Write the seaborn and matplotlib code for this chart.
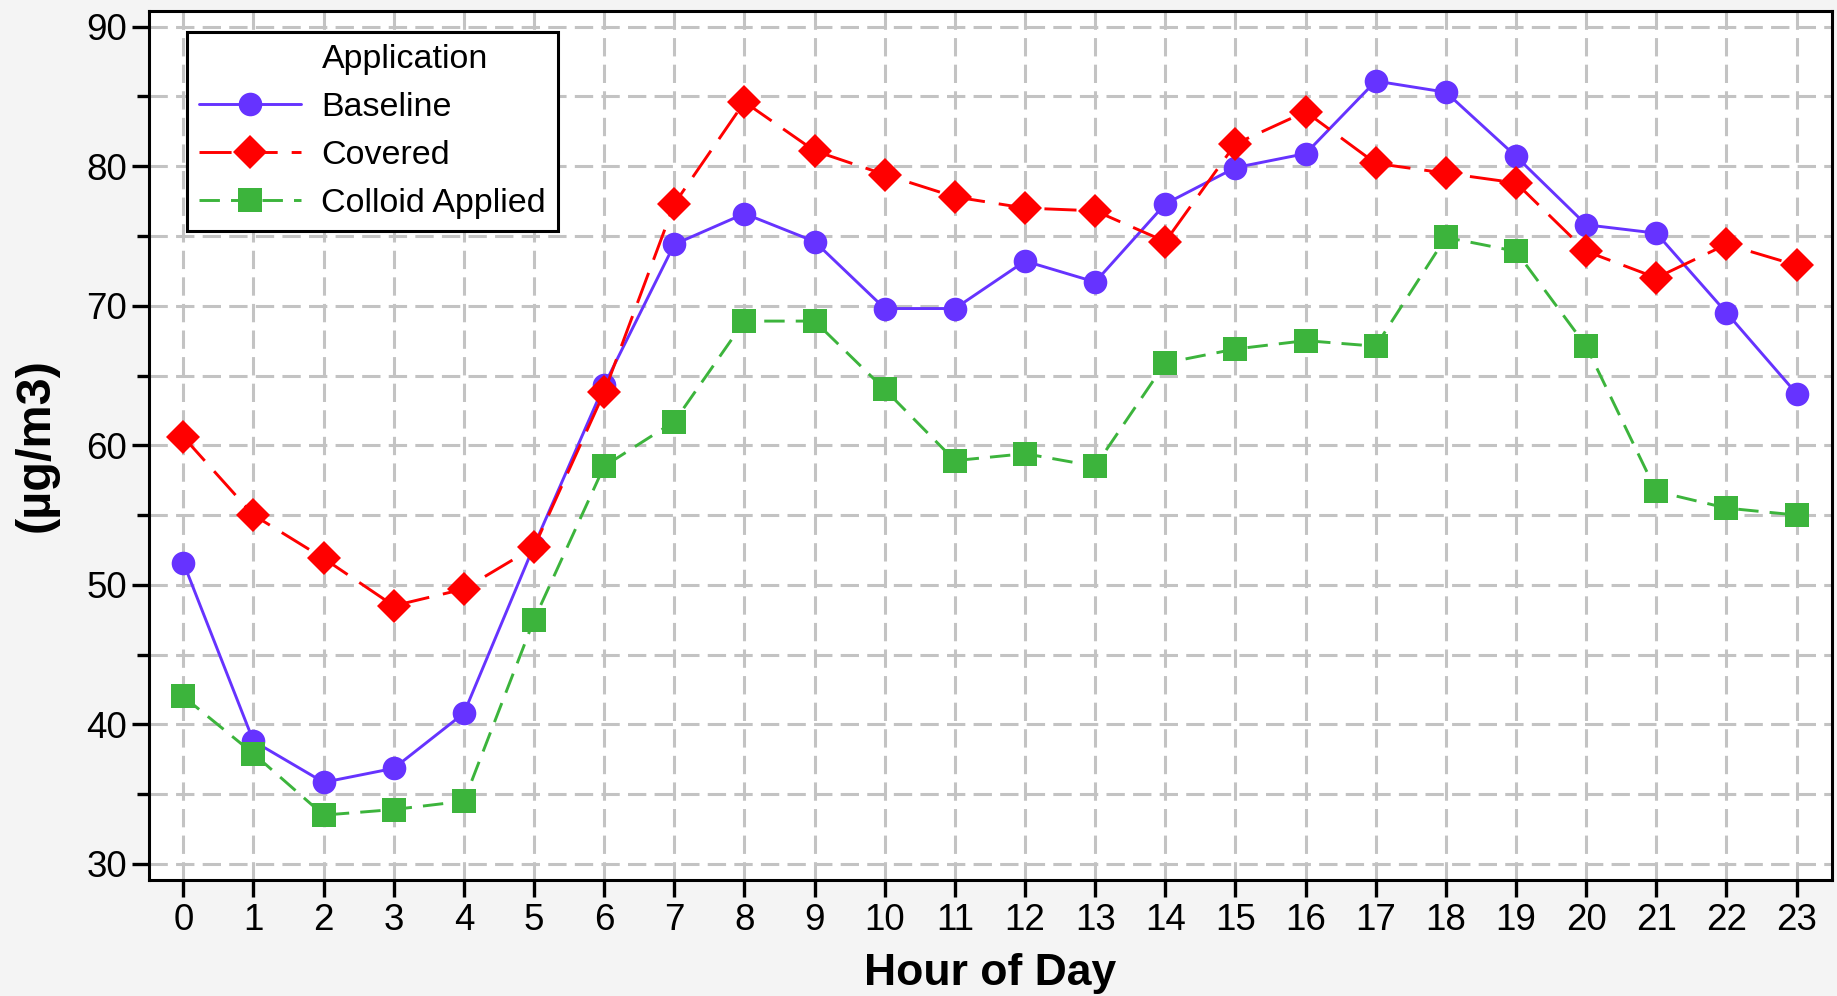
import numpy as np
import pandas as pd
import matplotlib
matplotlib.use("Agg")
import matplotlib.pyplot as plt
from matplotlib.lines import Line2D
from matplotlib.ticker import MultipleLocator
import seaborn as sns

hours = list(range(24))
baseline = [51.6, 38.8, 35.85, 36.85, 40.8, 52.8, 64.3, 74.4, 76.6, 74.6, 69.8, 69.8,
            73.2, 71.7, 77.3, 79.9, 80.9, 86.1, 85.3, 80.7, 75.8, 75.2, 69.5, 63.7]
covered = [60.6, 55.0, 51.9, 48.5, 49.7, 52.7, 63.8, 77.3, 84.6, 81.1, 79.4, 77.8,
           77.0, 76.8, 74.6, 81.6, 83.9, 80.2, 79.5, 78.8, 73.9, 72.0, 74.4, 72.9]
colloid = [42.0, 37.9, 33.5, 33.9, 34.5, 47.5, 58.5, 61.7, 68.9, 68.9, 64.0, 58.9,
           59.4, 58.5, 65.9, 66.9, 67.5, 67.1, 74.9, 73.9, 67.1, 56.7, 55.5, 55.0]
series_names = ["Baseline", "Covered", "Colloid Applied"]
legend_title = "Application"
x_label = "Hour of Day"
y_label = "(µg/m3)"

df = pd.DataFrame({
    "hour": hours * 3,
    "value": baseline + covered + colloid,
    "Application": [series_names[0]] * 24 + [series_names[1]] * 24 + [series_names[2]] * 24,
})

sns.set_style("ticks")
plt.rcParams["font.family"] = ["Liberation Sans", "DejaVu Sans"]
plt.rcParams["text.color"] = "black"
plt.rcParams["axes.labelcolor"] = "black"
plt.rcParams["xtick.color"] = "black"
plt.rcParams["ytick.color"] = "black"

fig = plt.figure(figsize=(18.37, 9.96), dpi=100, facecolor="#f4f4f4")
ax = fig.add_axes([149.3 / 1837, 1 - 880 / 996, (1831.7 - 149.3) / 1837, (880 - 11) / 996])
ax.set_facecolor("white")

palette = {"Baseline": "#6633ff", "Covered": "#ff0000", "Colloid Applied": "#3cb43c"}
markers = {"Baseline": "o", "Covered": "D", "Colloid Applied": "s"}
dashes = {"Baseline": "", "Covered": (11, 4.8), "Colloid Applied": (7, 3.8)}

sns.lineplot(data=df, x="hour", y="value", hue="Application", style="Application",
             palette=palette, markers=markers, dashes=dashes, hue_order=series_names,
             style_order=series_names, linewidth=2.1, markersize=17, markeredgewidth=0,
             ax=ax, legend=True, zorder=3)

ax.set_xlim(-0.485, 23.5)
ax.set_ylim(28.85, 91.12)
ax.set_xticks(hours)
ax.yaxis.set_major_locator(MultipleLocator(10))
ax.yaxis.set_minor_locator(MultipleLocator(5))
ax.set_yticks([30, 40, 50, 60, 70, 80, 90])

ax.grid(True, which="major", axis="both", color="#c3c3c3", linestyle=(0, (6, 2.7)), linewidth=2.2, zorder=0)
ax.grid(True, which="minor", axis="y", color="#c3c3c3", linestyle=(0, (6, 2.7)), linewidth=2.2, zorder=0)
ax.set_axisbelow(True)

for s in ax.spines.values():
    s.set_visible(True)
    s.set_color("black")
    s.set_linewidth(2.2)

ax.tick_params(axis="both", which="major", length=12.2, width=2.4, color="black",
               labelsize=26.5, labelcolor="black", pad=4, direction="out")
ax.tick_params(axis="y", which="minor", length=8.6, width=2.4, color="black", direction="out")

ax.set_xlabel(x_label, fontsize=32, fontweight="bold", labelpad=11, color="black")
ax.set_ylabel(y_label, fontsize=35, fontweight="bold", labelpad=20, color="black")

handles, labels = ax.get_legend_handles_labels()
hl = [(h, l) for h, l in zip(handles, labels) if l in series_names]
title_handle = Line2D([], [], linestyle="none", marker=None)
leg = ax.legend([title_handle] + [h for h, _ in hl], [legend_title] + [l for _, l in hl],
                loc="upper left", bbox_to_anchor=(186.7 / 1837, 1 - 31.7 / 996),
                bbox_transform=fig.transFigure, borderaxespad=0, fontsize=24.5,
                handlelength=3.0, handletextpad=0.6, borderpad=0.36, labelspacing=0.5,
                fancybox=False, framealpha=1, edgecolor="black", frameon=True)
leg.get_frame().set_linewidth(2.2)
for t in leg.get_texts():
    t.set_color("black")
for h in leg.legend_handles:
    if h is not None:
        try:
            h.set_markersize(17)
            h.set_markeredgewidth(0)
            h.set_linewidth(2.1)
        except Exception:
            pass

fig.savefig("out.png", dpi=100, facecolor=fig.get_facecolor())
